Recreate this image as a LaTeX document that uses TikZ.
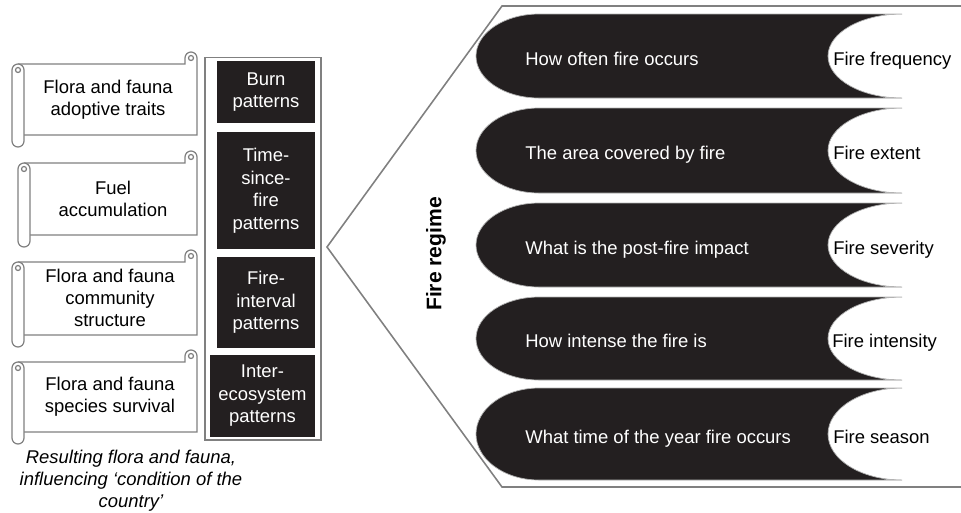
\documentclass[tikz,border=0pt]{standalone}
\usepackage{fontspec}
\setmainfont{Liberation Sans}
\usepackage{xcolor}
\usepackage{tikz}
\usetikzlibrary{positioning, calc}

\definecolor{inkblack}{HTML}{231F20}
\definecolor{rimgray}{HTML}{808080}

% scroll: left, curl top, right, roll bottom
\newcommand{\firescroll}[4]{%
  \filldraw[scrollline] (#1+6,#2+12) -- (#3-12,#2+12) -- (#3-12,#2+6)
    arc[start angle=180, end angle=360, radius=6] -- (#3,#4-12) -- (#1+12,#4-12);
  \draw[scrollline] (#3-6,#2+6) circle[radius=2.5];
  \filldraw[scrollline] (#1,#2+18) -- (#1,#4-6) arc[start angle=180, end angle=0, radius=6]
    -- (#1+12,#2+18) arc[start angle=0, end angle=-180, radius=6] -- cycle;
  \draw[scrollline] (#1+6,#2+18) circle[radius=2.5];
}

% black bar with the bite on its right end: top, bottom
\newcommand{\firebar}[2]{%
  \filldraw[barfill] (539,#1) -- (902,#1)
    arc[start angle=-90, end angle=-270, x radius=74, y radius={(#2-#1)/2}]
    -- (539,#2) arc[start angle=90, end angle=270, x radius=63, y radius={(#2-#1)/2}] -- cycle;
}

\begin{document}
\begin{tikzpicture}[
    x=0.02cm, y=-0.02cm,
    scrollline/.style={draw=rimgray, fill=white, line width=0.7pt},
    barfill/.style={fill=inkblack, draw=rimgray!60, line width=0.4pt},
    frame/.style={draw=rimgray, line width=0.9pt},
    scrolltext/.style={align=center, inner sep=0pt, font=\fontsize{10.5}{12.4}\selectfont},
    patbox/.style={rectangle, fill=inkblack, text=white, align=center, inner sep=0pt,
                   minimum width=1.96cm, font=\fontsize{10.5}{12.8}\selectfont},
    bartext/.style={anchor=base west, text=white, inner sep=0pt, font=\fontsize{10.5}{12.4}\selectfont},
    labtext/.style={anchor=base west, inner sep=0pt, font=\fontsize{10.5}{12.4}\selectfont}
  ]
  \useasboundingbox (0,0) rectangle (961,512);

  % left: scrolls
  \firescroll{12}{52}{197}{147}
  \firescroll{18}{151}{197}{247}
  \firescroll{12}{250}{197}{347}
  \firescroll{12}{350}{197}{444}
  \node[scrolltext] (traits)    at (108,100) {Flora and fauna\\adoptive traits};
  \node[scrolltext] (fuel)      at (113,199) {Fuel\\accumulation};
  \node[scrolltext] (community) at (110,298) {Flora and fauna\\community\\structure};
  \node[scrolltext] (survival)  at (110,397) {Flora and fauna\\species survival};
  \node[scrolltext, font=\fontsize{10.5}{12.4}\selectfont\itshape, anchor=north] (result) at (131,450)
       {Resulting flora and fauna,\\influencing ‘condition of the\\country’};

  % middle: patterns column
  \node[rectangle, draw=rimgray, line width=0.6pt, minimum width=2.32cm, minimum height=7.66cm] (patterns) at (263,248.5) {};
  \node[patbox, minimum height=1.24cm] (burn)     at (266,92)    {Burn\\patterns};
  \node[patbox, minimum height=2.34cm] (since)    at (266,190.5) {Time-\\since-\\fire\\patterns};
  \node[patbox, minimum height=1.82cm] (interval) at (266,302.5) {Fire-\\interval\\patterns};
  \node[patbox, minimum width=2.1cm, minimum height=1.64cm] (inter) at (262.5,396) {Inter-\\ecosystem\\patterns};

  % right: fire regime
  \draw[frame] (961,6) -- (502,6) -- (327,247) -- (502,487) -- (961,487);
  \node[rotate=90, font=\fontsize{12}{14}\selectfont\bfseries] (regime) at (436,254) {Fire regime};
  \firebar{14}{98}
  \firebar{108}{193}
  \firebar{203}{287}
  \firebar{297}{380}
  \firebar{388}{480}
  \node[bartext] (q1) at (525,65)    {How often fire occurs};
  \node[bartext] (q2) at (525,159.5) {The area covered by fire};
  \node[bartext] (q3) at (525,254)   {What is the post-fire impact};
  \node[bartext] (q4) at (525,347.5) {How intense the fire is};
  \node[bartext] (q5) at (525,443)   {What time of the year fire occurs};
  \node[labtext] (frequency) at (833,65)    {Fire frequency};
  \node[labtext] (extent)    at (833,159.5) {Fire extent};
  \node[labtext] (severity)  at (833,254)   {Fire severity};
  \node[labtext] (intensity) at (832,347.5) {Fire intensity};
  \node[labtext] (season)    at (833,443)   {Fire season};
\end{tikzpicture}
\end{document}
